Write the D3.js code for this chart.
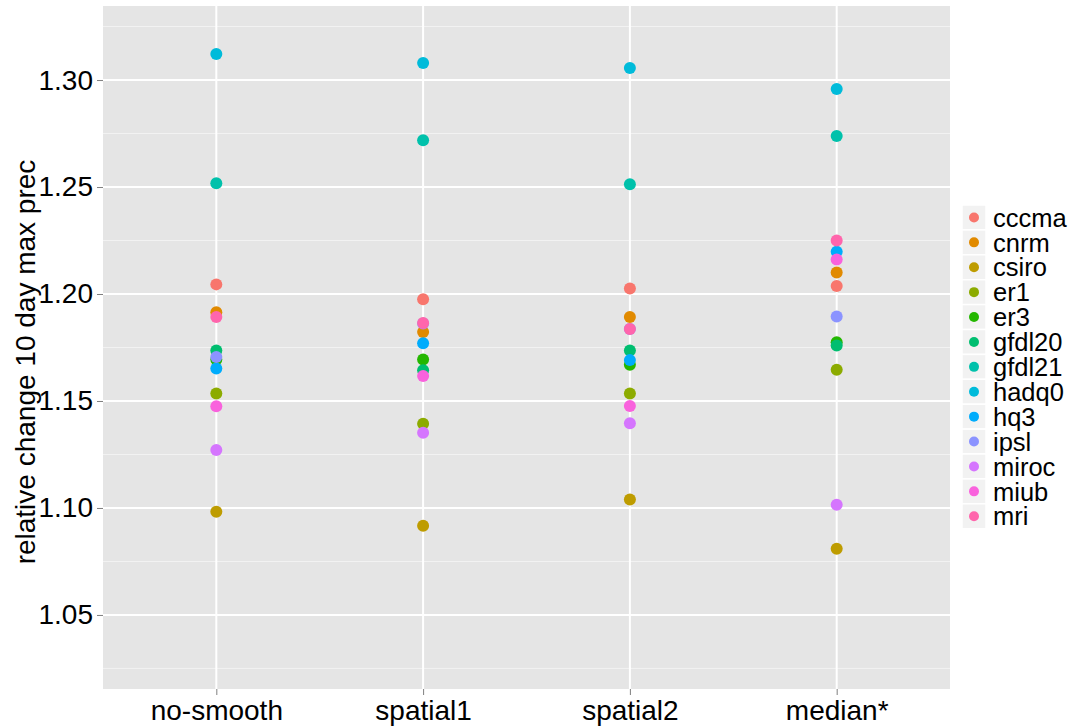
<!DOCTYPE html>
<html>
<head>
<meta charset="utf-8">
<script src="https://cdn.jsdelivr.net/npm/d3@7"></script>
<style>
  body { margin: 0; background: #fff; }
  text { font-family: "Liberation Sans", Arial, sans-serif; }
</style>
</head>
<body>
<script>
// smoothing variants along x
const methods = ["no-smooth", "spatial1", "spatial2", "median*"]
const models = ["cccma", "cnrm", "csiro", "er1", "er3", "gfdl20", "gfdl21", "hadq0", "hq3", "ipsl", "miroc", "miub", "mri"]
const colors = ["#F8766D", "#E18A00", "#BE9C00", "#8CAB00", "#24B700", "#00BE70", "#00C1AB", "#00BBDA", "#00ACFC", "#8B93FF", "#D575FE", "#F962DD", "#FF65AC"]

// one array per model, values in methods order
const cccma  = [1.2045, 1.1975, 1.2026, 1.2037]
const cnrm   = [1.1915, 1.1822, 1.1892, 1.2101]
const csiro  = [1.0982, 1.0917, 1.1040, 1.0809]
const er1    = [1.1535, 1.1394, 1.1535, 1.1646]
const er3    = [1.1694, 1.1694, 1.1669, 1.1775]
const gfdl20 = [1.1736, 1.1644, 1.1736, 1.1759]
const gfdl21 = [1.2518, 1.2719, 1.2513, 1.2738]
const hadq0  = [1.3122, 1.3080, 1.3056, 1.2958]
const hq3    = [1.1652, 1.1770, 1.1691, 1.2198]
const ipsl   = [1.1706, 1.1862, 1.1836, 1.1895]
const miroc  = [1.1271, 1.1352, 1.1396, 1.1015]
const miub   = [1.1475, 1.1617, 1.1477, 1.2161]
const mri    = [1.1892, 1.1864, 1.1836, 1.2250]

const series = [cccma, cnrm, csiro, er1, er3, gfdl20, gfdl21, hadq0, hq3, ipsl, miroc, miub, mri]
const yTicks = [1.05, 1.10, 1.15, 1.20, 1.25, 1.30]
const yMinor = [1.025, 1.075, 1.125, 1.175, 1.225, 1.275, 1.325]

const points = []
methods.forEach((m, i) => {
  models.forEach((mod, j) => {
    points.push({method: m, model: mod, value: series[j][i]})
  })
})

const width = 1071
const height = 726
const pLeft = 103, pRight = 950, pTop = 6, pBottom = 689

const svg = d3.select("body")
    .append("svg")
    .attr("width", width)
    .attr("height", height)

const x = d3.scalePoint()
    .domain(methods)
    .range([pLeft, pRight])
    .padding(0.548)

const y = d3.scaleLinear()
    .domain([1.0154, 1.3346])
    .range([pBottom, pTop])

const color = d3.scaleOrdinal()
    .domain(models)
    .range(colors)

svg.append("rect")
    .attr("x", pLeft)
    .attr("y", pTop)
    .attr("width", pRight - pLeft)
    .attr("height", pBottom - pTop)
    .attr("fill", "#E5E5E5")

svg.append("g")
    .selectAll("line")
    .data(yMinor)
    .join("line")
    .attr("x1", pLeft).attr("x2", pRight)
    .attr("y1", d => y(d)).attr("y2", d => y(d))
    .attr("stroke", "#F2F2F2")
    .attr("stroke-width", 1)

svg.append("g")
    .selectAll("line")
    .data(yTicks)
    .join("line")
    .attr("x1", pLeft).attr("x2", pRight)
    .attr("y1", d => y(d)).attr("y2", d => y(d))
    .attr("stroke", "#fff")
    .attr("stroke-width", 2)

svg.append("g")
    .selectAll("line")
    .data(methods)
    .join("line")
    .attr("x1", d => x(d)).attr("x2", d => x(d))
    .attr("y1", pTop).attr("y2", pBottom)
    .attr("stroke", "#fff")
    .attr("stroke-width", 2)

// axes
const yAxis = svg.append("g")
    .attr("transform", `translate(${pLeft},0)`)
    .call(d3.axisLeft(y).tickValues(yTicks).tickFormat(d3.format(".2f")).tickSize(6).tickPadding(4))
yAxis.select(".domain").remove()
yAxis.selectAll("line").attr("stroke", "#7F7F7F")
yAxis.selectAll("text")
    .attr("font-size", 28)
    .attr("fill", "#000")
    .attr("font-family", "Liberation Sans, Arial, sans-serif")

const xAxis = svg.append("g")
    .attr("transform", `translate(0,${pBottom})`)
    .call(d3.axisBottom(x).tickSize(6).tickPadding(5))
xAxis.select(".domain").remove()
xAxis.selectAll("line").attr("stroke", "#7F7F7F")
xAxis.selectAll("text")
    .attr("font-size", 28)
    .attr("fill", "#000")
    .attr("font-family", "Liberation Sans, Arial, sans-serif")

svg.append("text")
    .attr("transform", "translate(35,362) rotate(-90)")
    .attr("text-anchor", "middle")
    .attr("font-size", 28)
    .text("relative change 10 day max prec")

// points
svg.append("g")
    .selectAll("circle")
    .data(points)
    .join("circle")
    .attr("cx", d => x(d.method))
    .attr("cy", d => y(d.value))
    .attr("r", 6)
    .attr("fill", d => color(d.model))

// legend
const legend = svg.append("g")
    .attr("transform", "translate(962,205)")
const item = legend.selectAll("g")
    .data(models)
    .join("g")
    .attr("transform", (d, i) => `translate(0,${i * 24.9})`)
item.append("rect")
    .attr("width", 24)
    .attr("height", 24.9)
    .attr("fill", "#F2F2F2")
    .attr("stroke", "#fff")
    .attr("stroke-width", 1.5)
item.append("circle")
    .attr("cx", 12)
    .attr("cy", 12.45)
    .attr("r", 5)
    .attr("fill", d => color(d))
item.append("text")
    .attr("x", 31)
    .attr("y", 12.45)
    .attr("dy", "0.36em")
    .attr("font-size", 25.5)
    .text(d => d)
</script>
</body>
</html>
